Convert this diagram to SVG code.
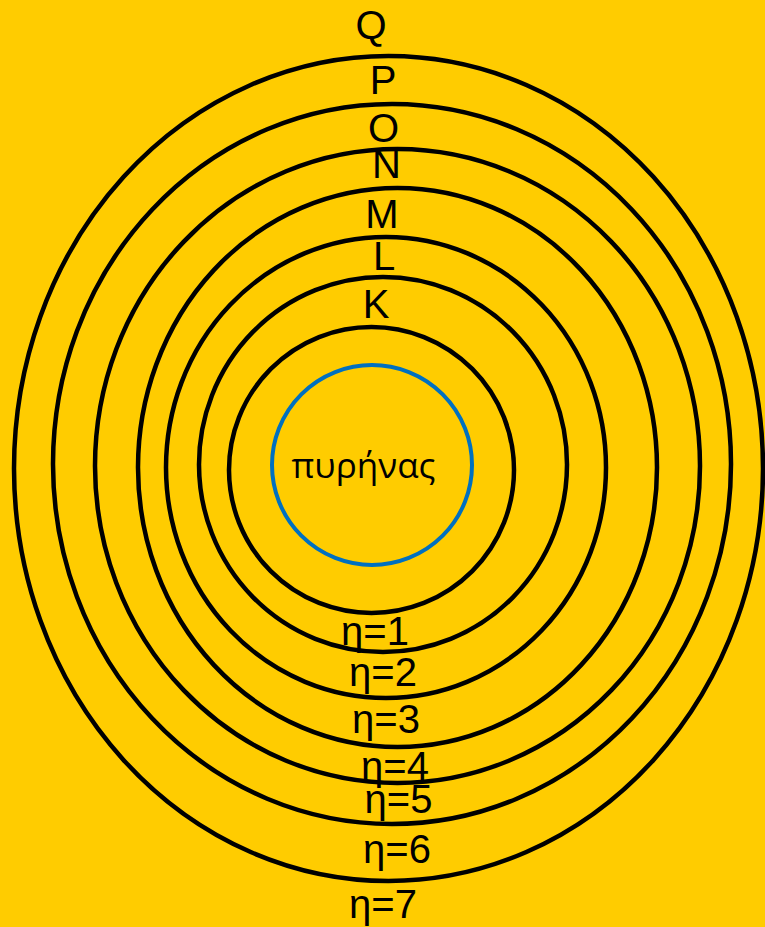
<svg xmlns="http://www.w3.org/2000/svg" width="765" height="927" viewBox="0 0 765 927">
  <style>
    .shell { fill: none; stroke: #000000; stroke-width: 4.5; }
    .nucleus { fill: none; stroke: #0070C0; stroke-width: 4; }
    .lbl { font-family: "Liberation Sans", Arial, sans-serif; font-size: 40px; fill: #000000; text-anchor: middle; }
    .nuc { font-family: "Open Sans", "Noto Sans", sans-serif; font-size: 35px; fill: #000000; text-anchor: middle; }
  </style>
  <rect x="0" y="0" width="765" height="927" fill="#FFCC00"/>
  <g id="shell-Q">
    <ellipse class="shell" cx="388.5" cy="468.5" rx="374.5" ry="412.5"/>
    <text class="lbl" x="371" y="39">Q</text>
    <text class="lbl" x="383" y="918">η=7</text>
  </g>
  <g id="shell-P">
    <ellipse class="shell" cx="392" cy="464" rx="339" ry="360"/>
    <text class="lbl" x="383" y="94">P</text>
    <text class="lbl" x="397" y="863">η=6</text>
  </g>
  <g id="shell-O">
    <ellipse class="shell" cx="397.5" cy="466" rx="302.5" ry="317"/>
    <text class="lbl" x="383.5" y="142">O</text>
    <text class="lbl" x="398.5" y="813">η=5</text>
  </g>
  <g id="shell-N">
    <ellipse class="shell" cx="397.5" cy="467.5" rx="259.5" ry="279.5"/>
    <text class="lbl" x="386.5" y="178">N</text>
    <text class="lbl" x="395" y="780">η=4</text>
  </g>
  <g id="shell-M">
    <ellipse class="shell" cx="386" cy="467.5" rx="220" ry="230.5"/>
    <text class="lbl" x="382" y="228">M</text>
    <text class="lbl" x="386" y="733">η=3</text>
  </g>
  <g id="shell-L">
    <ellipse class="shell" cx="383" cy="464.5" rx="184" ry="187.5"/>
    <text class="lbl" x="384" y="270">L</text>
    <text class="lbl" x="383" y="686">η=2</text>
  </g>
  <g id="shell-K">
    <ellipse class="shell" cx="371.5" cy="470" rx="142.5" ry="143"/>
    <text class="lbl" x="376" y="318">K</text>
    <text class="lbl" x="375" y="645">η=1</text>
  </g>
  <g id="nucleus">
    <circle class="nucleus" cx="372" cy="465" r="100"/>
    <text class="nuc" x="363.5" y="478">πυρήνας</text>
  </g>
  <g id="connectors"></g>
</svg>
